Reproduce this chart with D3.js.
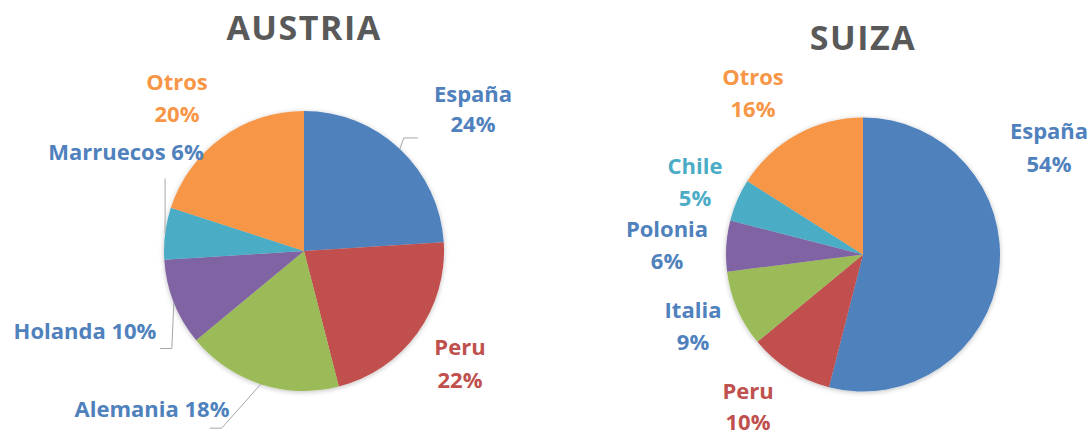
<!DOCTYPE html>
<html>
<head>
<meta charset="utf-8">
<script src="https://cdn.jsdelivr.net/npm/d3@7"></script>
<style>
  body { margin: 0; background: #fff; }
  text { font-family: "Open Sans", "Noto Sans", sans-serif; font-weight: bold; }
</style>
</head>
<body>
<div id="chart"></div>
<script>
const w = 1090;
const h = 434;

// data
const austriaCats = ["España", "Peru", "Alemania", "Holanda", "Marruecos", "Otros"];
const austriaValues = [24, 22, 18, 10, 6, 20];
const suizaCats = ["España", "Peru", "Italia", "Polonia", "Chile", "Otros"];
const suizaValues = [54, 10, 9, 6, 5, 16];

const sliceColors = ["#4F81BD", "#C0504D", "#9BBB59", "#8064A2", "#4BACC6", "#F79646"];

// label layout (offsets from pie centre), one-line labels have a single dy
const austriaLayout = [
    { dx: 169, dy: [-149, -119], color: "#4F81BD", line: [[4, -11], [18, -11]] },
    { dx: 156, dy: [104, 137], color: "#C0504D" },
    { dx: -152, dy: [166], color: "#4F81BD", inline: true, line: [[-39, 44], [-51, 44]] },
    { dx: -219, dy: [88], color: "#4F81BD", inline: true, line: [[-2, 46], [-14, 46]] },
    { dx: -178, dy: [-91], color: "#4F81BD", inline: true, line: [[0, -55]] },
    { dx: -127, dy: [-161, -129], color: "#F79646" }
];
const suizaLayout = [
    { dx: 186, dy: [-116, -83], color: "#4F81BD" },
    { dx: -115, dy: [144, 175], color: "#C0504D" },
    { dx: -170, dy: [63, 95], color: "#4F81BD" },
    { dx: -196, dy: [-18, 14], color: "#4F81BD" },
    { dx: -168, dy: [-81, -49], color: "#4BACC6" },
    { dx: -110, dy: [-170, -138], color: "#F79646" }
];

const svg = d3.select("#chart")
    .append("svg")
    .attr("width", w)
    .attr("height", h);

// soft excel-like shadow
const filter = svg.append("defs").append("filter")
    .attr("id", "shadow")
    .attr("x", "-10%").attr("y", "-10%")
    .attr("width", "120%").attr("height", "120%");
filter.append("feDropShadow")
    .attr("dx", 0).attr("dy", 1)
    .attr("stdDeviation", 2.5)
    .attr("flood-color", "#000")
    .attr("flood-opacity", 0.25);

let drawPie = function(cats, values, layout, title, cx, cy, r, titleY) {

    const g = svg.append("g")
        .attr("transform", "translate(" + cx + "," + cy + ")");

    const pie = d3.pie().sort(null).value(d => d)(values);
    const arc = d3.arc().innerRadius(0).outerRadius(r);
    const edge = d3.arc().innerRadius(r).outerRadius(r);

    g.append("g")
        .attr("filter", "url(#shadow)")
        .selectAll("path")
        .data(pie)
        .enter()
        .append("path")
        .attr("d", arc)
        .attr("fill", (d, i) => sliceColors[i]);

    // leader lines
    pie.forEach((d, i) => {
        const lay = layout[i];
        if (!lay.line) return;
        const p0 = edge.centroid(d);
        const pts = [p0].concat(lay.line.map(q => [p0[0] + q[0], p0[1] + q[1]]));
        g.append("path")
            .attr("d", d3.line()(pts))
            .attr("fill", "none")
            .attr("stroke", "#A6A6A6")
            .attr("stroke-width", 1);
    });

    // labels
    pie.forEach((d, i) => {
        const lay = layout[i];
        const pct = values[i] + "%";
        const lines = lay.inline ? [cats[i] + " " + pct] : [cats[i], pct];
        const t = g.append("text")
            .attr("text-anchor", "middle")
            .attr("fill", lay.color)
            .style("font-size", "22px");
        lines.forEach((s, k) => {
            t.append("tspan")
                .attr("x", lay.dx)
                .attr("y", lay.dy[k])
                .text(s);
        });
    });

    svg.append("text")
        .attr("x", cx)
        .attr("y", titleY)
        .attr("text-anchor", "middle")
        .attr("fill", "#595959")
        .style("font-size", "34px")
        .style("letter-spacing", "1.5px")
        .text(title);
};

drawPie(austriaCats, austriaValues, austriaLayout, "AUSTRIA", 304, 251, 140, 40);
drawPie(suizaCats, suizaValues, suizaLayout, "SUIZA", 863, 254.5, 137, 50);
</script>
</body>
</html>
